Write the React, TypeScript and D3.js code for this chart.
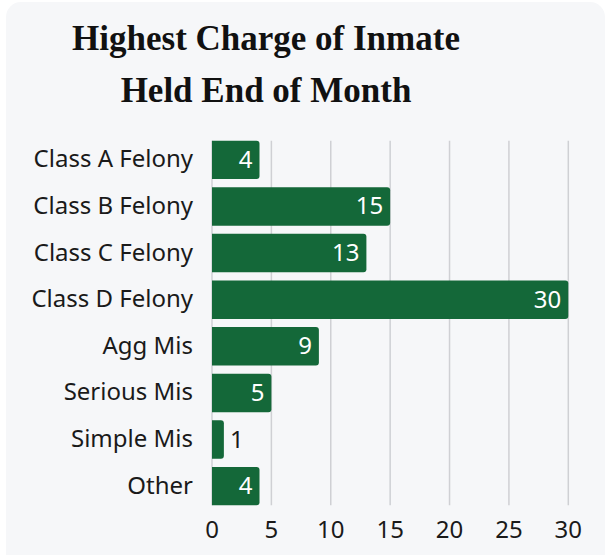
import React from "react";
import * as d3 from "d3";

const categories = [
  "Class A Felony",
  "Class B Felony",
  "Class C Felony",
  "Class D Felony",
  "Agg Mis",
  "Serious Mis",
  "Simple Mis",
  "Other",
];
const values = [4, 15, 13, 30, 9, 5, 1, 4];
const ticks = [0, 5, 10, 15, 20, 25, 30];
const titleLines = ["Highest Charge of Inmate", "Held End of Month"];

const W = 608;
const H = 555;
const BAR = "#146839";
const BG = "#f6f7f9";
const SANS = "'Noto Sans', 'Open Sans', sans-serif";
const SERIF = "'Liberation Serif', 'DejaVu Serif', serif";

export default function App() {
  const x = d3.scaleLinear().domain([0, 30]).range([212, 568.3]);
  const y = d3
    .scaleBand<string>()
    .domain(categories)
    .range([132.5, 513.5])
    .padding(0.175);
  const bw = y.bandwidth();
  const gridTop = y(categories[0])!;
  const gridBot = y(categories[categories.length - 1])! + bw;

  const barPath = (v: number, yy: number) => {
    const x0 = x(0);
    const x1 = x(v);
    const r = Math.min(3, (x1 - x0) / 2);
    return `M${x0},${yy}H${x1 - r}Q${x1},${yy} ${x1},${yy + r}V${yy + bw - r}Q${x1},${yy + bw} ${x1 - r},${yy + bw}H${x0}Z`;
  };

  return (
    <svg
      width={W}
      height={H}
      style={{ position: "absolute", left: 0, top: 0, display: "block" }}
    >
      <rect x={0} y={0} width={W} height={H} fill="#ffffff" />
      <rect x={6} y={2} width={599} height={566} rx={15} fill={BG} />
      {titleLines.map((t, i) => (
        <text
          key={t}
          x={266}
          y={50 + i * 52}
          textAnchor="middle"
          fontFamily={SERIF}
          fontWeight="bold"
          fontSize={35}
          fill="#111"
        >
          {t}
        </text>
      ))}
      {ticks.map((t) => (
        <line
          key={"g" + t}
          x1={x(t)}
          x2={x(t)}
          y1={gridTop}
          y2={gridBot}
          stroke="#cfd0d4"
          strokeWidth={1.5}
        />
      ))}
      {categories.map((c, i) => {
        const yy = y(c)!;
        const v = values[i];
        const inside = x(v) - x(0) > 30;
        const cy = yy + bw / 2;
        return (
          <g key={c}>
            <path d={barPath(v, yy)} fill={BAR} />
            <text
              x={193}
              y={cy + 7.5}
              textAnchor="end"
              fontFamily={SANS}
              fontSize={24}
              fill="#1a1a1a"
            >
              {c}
            </text>
            <text
              x={inside ? x(v) - 7 : x(v) + 6}
              y={cy + 8}
              textAnchor={inside ? "end" : "start"}
              fontFamily={SANS}
              fontSize={24}
              fill={inside ? "#ffffff" : "#1a1a1a"}
            >
              {v}
            </text>
          </g>
        );
      })}
      {ticks.map((t) => (
        <text
          key={"t" + t}
          x={x(t)}
          y={537.5}
          textAnchor="middle"
          fontFamily={SANS}
          fontSize={24}
          fill="#1a1a1a"
        >
          {t}
        </text>
      ))}
    </svg>
  );
}
